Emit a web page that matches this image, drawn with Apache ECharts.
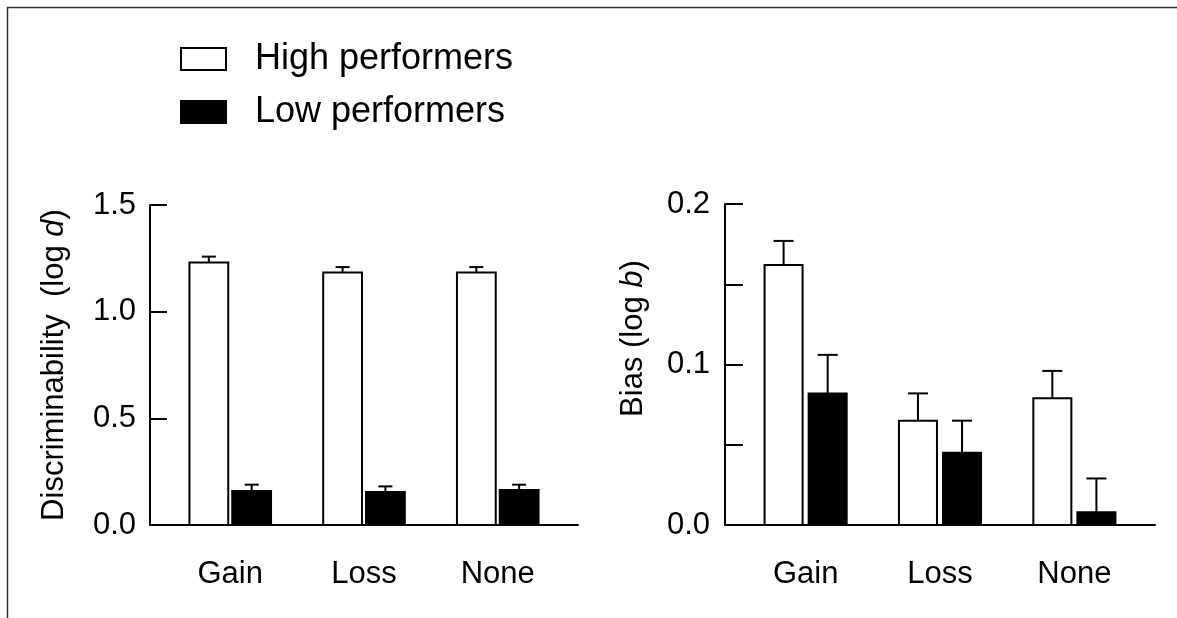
<!DOCTYPE html>
<html>
<head>
<meta charset="utf-8">
<script src="https://cdn.jsdelivr.net/npm/echarts@6/dist/echarts.min.js"></script>
<style>
  html, body { margin: 0; padding: 0; background: #fff; }
  #chart { width: 1177px; height: 618px; }
</style>
</head>
<body>
<div id="chart"></div>
<script>
// data
const categories = ['Gain', 'Loss', 'None'];

// discriminability (log d): means and SEM
const discHigh = [1.231, 1.184, 1.184];
const discHighErr = [0.027, 0.025, 0.025];
const discLow = [0.159, 0.155, 0.164];
const discLowErr = [0.030, 0.026, 0.025];

// bias (log b): means and SEM
const biasHigh = [0.162, 0.065, 0.079];
const biasHighErr = [0.015, 0.017, 0.017];
const biasLow = [0.082, 0.045, 0.008];
const biasLowErr = [0.024, 0.020, 0.021];

const discTicks = [0, 0.5, 1.0, 1.5];
const biasTicks = [0, 0.1, 0.2];

const FONT = "'Liberation Sans', Arial, sans-serif";

function rows(vals, errs) {
  return vals.map((v, i) => [i, v, errs[i]]);
}

// side: -1 = left bar of the pair, 1 = right bar
function barRenderer(side, fill, barFrac, gapFrac, capPx) {
  return function (params, api) {
    const cat = api.value(0), val = api.value(1), err = api.value(2);
    const band = api.size([1, 0])[0];
    const w = band * barFrac;
    const gap = band * gapFrac;
    const base = api.coord([cat, 0]);
    const top = api.coord([cat, val]);
    const errTop = api.coord([cat, val + err]);
    const cx = base[0] + side * (gap / 2 + w / 2);
    return {
      type: 'group',
      children: [
        {
          type: 'line',
          shape: { x1: cx, y1: top[1], x2: cx, y2: errTop[1] },
          style: { stroke: '#000', lineWidth: 2 }
        },
        {
          type: 'line',
          shape: { x1: cx - capPx / 2, y1: errTop[1], x2: cx + capPx / 2, y2: errTop[1] },
          style: { stroke: '#000', lineWidth: 2 }
        },
        {
          type: 'rect',
          shape: { x: cx - w / 2, y: top[1], width: w, height: base[1] - top[1] },
          style: { fill: fill, stroke: '#000', lineWidth: 2 }
        }
      ]
    };
  };
}

function xAxisFor(gridIndex) {
  return {
    type: 'value', gridIndex: gridIndex, min: -0.6, max: 2.6,
    axisLine: { show: true, onZero: false, lineStyle: { color: '#000', width: 2 } },
    axisTick: { show: false },
    splitLine: { show: false },
    axisLabel: {
      customValues: [0, 1, 2],
      formatter: v => categories[Math.round(v)],
      color: '#000', fontSize: 31, fontFamily: FONT, margin: 34
    }
  };
}

const chart = echarts.init(document.getElementById('chart'));
chart.setOption({
  animation: false,
  backgroundColor: '#fff',
  graphic: [
    { type: 'polyline', shape: { points: [[7.5, 618], [7.5, 7.5], [1177, 7.5]] },
      style: { stroke: '#333', lineWidth: 1.5, fill: null } }
  ],
  legend: {
    orient: 'vertical', left: 175, top: 36,
    itemWidth: 45, itemHeight: 22, itemGap: 17,
    selectedMode: false,
    textStyle: { fontSize: 36, fontFamily: FONT, color: '#000', lineHeight: 36, padding: [0, 0, 0, 24] },
    data: [
      { name: 'High performers', icon: 'rect', itemStyle: { color: '#fff', borderColor: '#000', borderWidth: 2 } },
      { name: 'Low performers', icon: 'rect', itemStyle: { color: '#000', borderColor: '#000', borderWidth: 2 } }
    ]
  },
  grid: [
    { left: 150, top: 205, width: 428, height: 320 },
    { left: 725, top: 204, width: 430, height: 321 }
  ],
  xAxis: [xAxisFor(0), xAxisFor(1)],
  yAxis: [
    {
      type: 'value', gridIndex: 0, min: 0, max: 1.5, interval: 0.5,
      name: 'Discriminability  (log {i|d})',
      nameLocation: 'middle', nameRotate: 90, nameGap: 80,
      nameTextStyle: { fontSize: 31, fontFamily: FONT, color: '#000',
        rich: { i: { fontStyle: 'italic', fontSize: 31, fontFamily: FONT, color: '#000' } } },
      axisLine: { show: true, onZero: false, lineStyle: { color: '#000', width: 2 } },
      axisTick: { show: true, inside: true, length: 17, lineStyle: { color: '#000', width: 2 } },
      splitLine: { show: false },
      axisLabel: {
        customValues: discTicks,
        formatter: v => v.toFixed(1),
        color: '#000', fontSize: 31, fontFamily: FONT, margin: 14
      }
    },
    {
      type: 'value', gridIndex: 1, min: 0, max: 0.2, interval: 0.05,
      name: 'Bias (log {i|b})',
      nameLocation: 'middle', nameRotate: 90, nameGap: 76,
      nameTextStyle: { fontSize: 31, fontFamily: FONT, color: '#000', padding: [0, 0, 0, 52],
        rich: { i: { fontStyle: 'italic', fontSize: 31, fontFamily: FONT, color: '#000' } } },
      axisLine: { show: true, onZero: false, lineStyle: { color: '#000', width: 2 } },
      axisTick: { show: true, inside: true, length: 18, lineStyle: { color: '#000', width: 2 } },
      splitLine: { show: false },
      axisLabel: {
        customValues: biasTicks,
        formatter: v => v.toFixed(1),
        color: '#000', fontSize: 31, fontFamily: FONT, margin: 15
      }
    }
  ],
  series: [
    { name: 'High performers', type: 'custom', xAxisIndex: 0, yAxisIndex: 0,
      renderItem: barRenderer(-1, '#fff', 0.29, 0.03, 14), data: rows(discHigh, discHighErr) },
    { name: 'Low performers', type: 'custom', xAxisIndex: 0, yAxisIndex: 0,
      renderItem: barRenderer(1, '#000', 0.29, 0.03, 14), data: rows(discLow, discLowErr) },
    { name: 'High performers', type: 'custom', xAxisIndex: 1, yAxisIndex: 1,
      renderItem: barRenderer(-1, '#fff', 0.283, 0.045, 20), data: rows(biasHigh, biasHighErr) },
    { name: 'Low performers', type: 'custom', xAxisIndex: 1, yAxisIndex: 1,
      renderItem: barRenderer(1, '#000', 0.283, 0.045, 20), data: rows(biasLow, biasLowErr) }
  ]
});
</script>
</body>
</html>
